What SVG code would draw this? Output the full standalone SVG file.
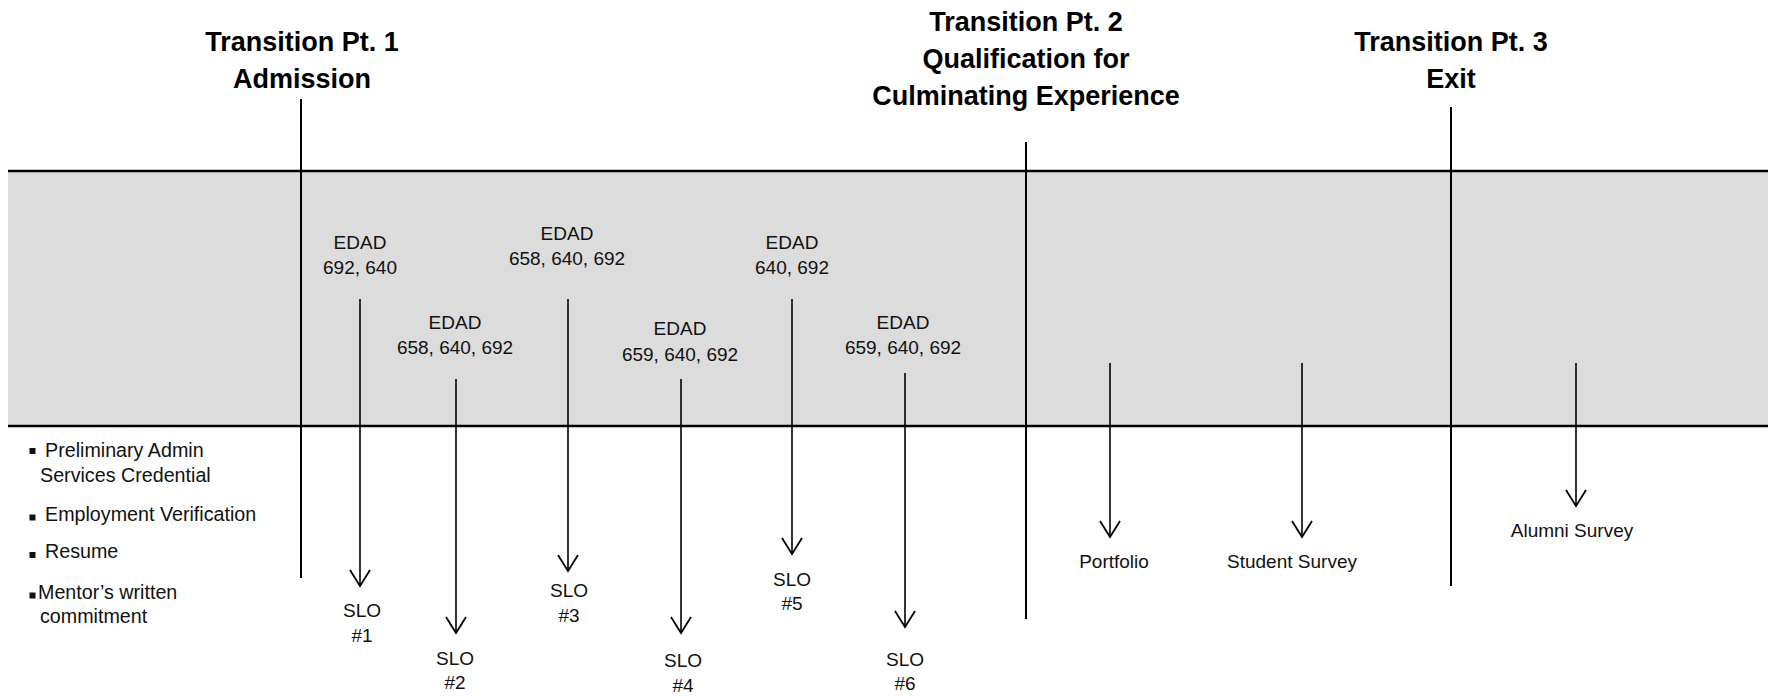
<svg xmlns="http://www.w3.org/2000/svg" width="1768" height="696" viewBox="0 0 1768 696">
<style>
  .t { font-family: "Liberation Sans", Arial, sans-serif; font-size: 19px; fill: #111; text-anchor: middle; }
  .tl { font-family: "Liberation Sans", Arial, sans-serif; font-size: 19.7px; fill: #111; }
  .h { font-family: "Liberation Sans", Arial, sans-serif; font-size: 27px; font-weight: bold; fill: #000; text-anchor: middle; }
  .band { fill: #dcdcdc; }
  .hl { stroke: #000; stroke-width: 2.5; fill: none; }
  .div { stroke: #000; stroke-width: 2; fill: none; }
  .arr { stroke: #000; stroke-width: 1.6; fill: none; marker-end: url(#vhead); }
</style>
<defs>
  <marker id="vhead" markerUnits="userSpaceOnUse" orient="auto" markerWidth="24" markerHeight="26" viewBox="-20 -13 24 26" refX="0" refY="0" overflow="visible">
    <path d="M -16 -10 L 0 0 L -16 10" fill="none" stroke="#000" stroke-width="1.8"/>
  </marker>
</defs>
<rect width="1768" height="696" fill="#fff"/>
<rect class="band" x="8" y="171" width="1760" height="255"/>
<line class="hl" x1="8" y1="171" x2="1768" y2="171"/>
<line class="hl" x1="8" y1="426" x2="1768" y2="426"/>
<line class="div" x1="301" y1="99" x2="301" y2="578"/>
<line class="div" x1="1026" y1="142" x2="1026" y2="619"/>
<line class="div" x1="1451" y1="107" x2="1451" y2="586"/>

<g id="tp1"><text class="h" x="302" y="51">Transition Pt. 1</text><text class="h" x="302" y="88">Admission</text></g>
<g id="tp2"><text class="h" x="1026" y="31">Transition Pt. 2</text><text class="h" x="1026" y="68">Qualification for</text><text class="h" x="1026" y="105">Culminating Experience</text></g>
<g id="tp3"><text class="h" x="1451" y="51">Transition Pt. 3</text><text class="h" x="1451" y="88">Exit</text></g>

<g id="requirements">
  <rect x="29.5" y="448" width="6" height="6" fill="#111"/>
  <text class="tl" x="45" y="457">Preliminary Admin</text>
  <text class="tl" x="40" y="482">Services Credential</text>
  <rect x="29.5" y="514.5" width="6" height="6" fill="#111"/>
  <text class="tl" x="45" y="521">Employment Verification</text>
  <rect x="29.5" y="552" width="6" height="6" fill="#111"/>
  <text class="tl" x="45" y="558">Resume</text>
  <rect x="29.5" y="592.5" width="6" height="6" fill="#111"/>
  <text class="tl" x="38" y="599">Mentor’s written</text>
  <text class="tl" x="40" y="623">commitment</text>
</g>

<g id="edad1"><text class="t" x="360" y="249">EDAD</text><text class="t" x="360" y="274">692, 640</text></g>
<g id="edad2"><text class="t" x="455" y="329">EDAD</text><text class="t" x="455" y="354">658, 640, 692</text></g>
<g id="edad3"><text class="t" x="567" y="240">EDAD</text><text class="t" x="567" y="265">658, 640, 692</text></g>
<g id="edad4"><text class="t" x="680" y="335">EDAD</text><text class="t" x="680" y="361">659, 640, 692</text></g>
<g id="edad5"><text class="t" x="792" y="249">EDAD</text><text class="t" x="792" y="274">640, 692</text></g>
<g id="edad6"><text class="t" x="903" y="329">EDAD</text><text class="t" x="903" y="354">659, 640, 692</text></g>

<g id="slo1"><text class="t" x="362" y="617">SLO</text><text class="t" x="362" y="642">#1</text></g>
<g id="slo2"><text class="t" x="455" y="665">SLO</text><text class="t" x="455" y="689">#2</text></g>
<g id="slo3"><text class="t" x="569" y="597">SLO</text><text class="t" x="569" y="622">#3</text></g>
<g id="slo4"><text class="t" x="683" y="667">SLO</text><text class="t" x="683" y="692">#4</text></g>
<g id="slo5"><text class="t" x="792" y="586">SLO</text><text class="t" x="792" y="610">#5</text></g>
<g id="slo6"><text class="t" x="905" y="666">SLO</text><text class="t" x="905" y="690">#6</text></g>

<g id="portfolio"><text class="t" x="1114" y="568">Portfolio</text></g>
<g id="student-survey"><text class="t" x="1292" y="568">Student Survey</text></g>
<g id="alumni-survey"><text class="t" x="1572" y="537">Alumni Survey</text></g>

<g id="connectors">
  <line class="arr" x1="360" y1="299" x2="360" y2="586"/>
  <line class="arr" x1="456" y1="379" x2="456" y2="633"/>
  <line class="arr" x1="568" y1="299" x2="568" y2="571"/>
  <line class="arr" x1="681" y1="379" x2="681" y2="633"/>
  <line class="arr" x1="792" y1="299" x2="792" y2="554"/>
  <line class="arr" x1="905" y1="373" x2="905" y2="627"/>
  <line class="arr" x1="1110" y1="363" x2="1110" y2="537"/>
  <line class="arr" x1="1302" y1="363" x2="1302" y2="537"/>
  <line class="arr" x1="1576" y1="363" x2="1576" y2="506"/>
</g>
</svg>
